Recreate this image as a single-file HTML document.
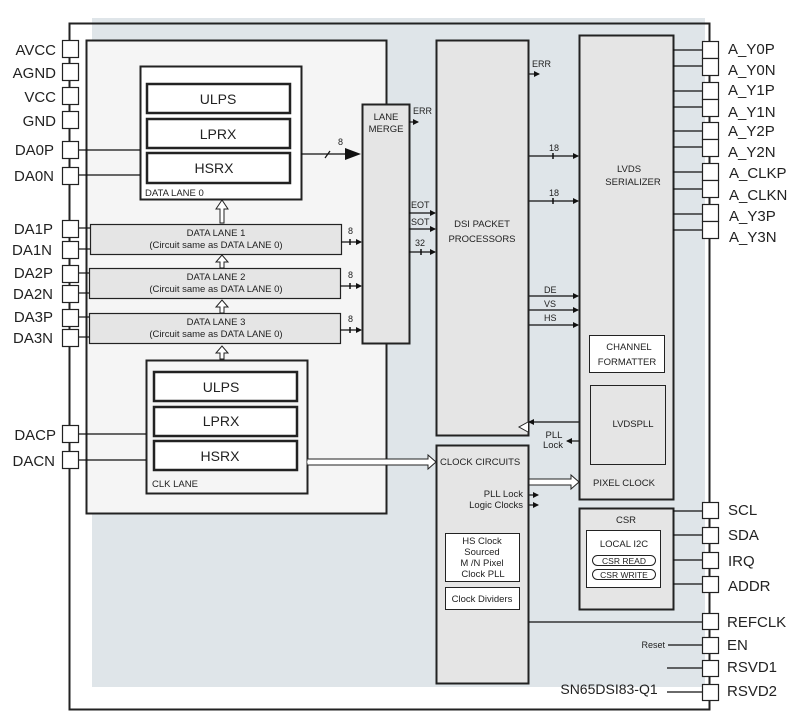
<!DOCTYPE html>
<html><head><meta charset="utf-8"><style>
body{margin:0;background:#fff}
svg{display:block}
text{font-family:"Liberation Sans",sans-serif;fill:#222}
</style></head><body>
<svg width="803" height="727" viewBox="0 0 803 727" xmlns="http://www.w3.org/2000/svg">
<defs>
<marker id="a" markerWidth="6" markerHeight="6" refX="5" refY="3" orient="auto" markerUnits="userSpaceOnUse"><path d="M0,0 L6,3 L0,6 z" fill="#111"/></marker>
</defs>
<rect x="92" y="18" width="613" height="669" fill="#dfe5e9"/>
<rect x="69.5" y="23.5" width="640" height="686" fill="none" stroke="#222" stroke-width="2"/>
<rect x="92" y="18" width="613" height="669" fill="#dfe5e9" opacity="0"/>
<!-- left panel -->
<rect x="86.5" y="40.5" width="300" height="473" fill="#f5f5f5" stroke="#222" stroke-width="2"/>
<!-- data lane 0 -->
<rect x="140.5" y="66.5" width="161" height="133" fill="#fff" stroke="#222" stroke-width="2"/>
<g fill="#fff" stroke="#222" stroke-width="2.5">
<rect x="147" y="84" width="143" height="29"/><rect x="147" y="119" width="143" height="29"/><rect x="147" y="153" width="143" height="30"/>
<rect x="154" y="372" width="143" height="29"/><rect x="154" y="407" width="143" height="29"/><rect x="154" y="441" width="143" height="29"/>
</g>
<g font-size="14" text-anchor="middle">
<text x="218" y="104">ULPS</text><text x="218" y="139">LPRX</text><text x="214" y="173">HSRX</text>
<text x="221" y="392">ULPS</text><text x="221" y="426">LPRX</text><text x="220" y="461">HSRX</text>
</g>
<text x="145" y="196" font-size="9.5">DATA LANE 0</text>
<rect x="146.5" y="360.5" width="161" height="133" fill="none" stroke="#222" stroke-width="2"/>
<text x="152" y="487" font-size="9.5">CLK LANE</text>
<!-- data lanes 1-3 -->
<g fill="#e5e5e5" stroke="#222" stroke-width="1.2">
<rect x="90.5" y="224.5" width="251" height="30"/><rect x="89.5" y="268.5" width="251" height="30"/><rect x="89.5" y="313.5" width="251" height="30"/>
</g>
<g font-size="9.5" text-anchor="middle">
<text x="216" y="236">DATA LANE 1</text><text x="216" y="248">(Circuit same as DATA LANE 0)</text>
<text x="216" y="280">DATA LANE 2</text><text x="216" y="292">(Circuit same as DATA LANE 0)</text>
<text x="216" y="325">DATA LANE 3</text><text x="216" y="337">(Circuit same as DATA LANE 0)</text>
</g>
<!-- hollow up arrows -->
<g fill="#fff" stroke="#222" stroke-width="1">
<path d="M220,223 v-14 h-4 l6,-9 l6,9 h-4 v14 z"/>
<path d="M220,268 v-6 h-4 l6,-7 l6,7 h-4 v6 z"/>
<path d="M220,313 v-6 h-4 l6,-7 l6,7 h-4 v6 z"/>
<path d="M220,359 v-6 h-4 l6,-7 l6,7 h-4 v6 z"/>
</g>
<!-- lane merge -->
<rect x="362.5" y="104.5" width="47" height="239" fill="#e5e5e5" stroke="#222" stroke-width="2"/>
<text x="386" y="120" font-size="9.5" text-anchor="middle">LANE</text>
<text x="386" y="132" font-size="9.5" text-anchor="middle">MERGE</text>
<g stroke="#111" stroke-width="1.2" fill="none">
<line x1="301" y1="154" x2="345" y2="154"/>
<line x1="325" y1="158" x2="330" y2="151"/>
</g>
<path d="M345,148 L361,154 L345,160 z" fill="#111"/>
<text x="338" y="145" font-size="9">8</text>
<g stroke="#111" stroke-width="1.2" marker-end="url(#a)">
<line x1="341" y1="242" x2="361" y2="242"/><line x1="340" y1="286" x2="361" y2="286"/><line x1="340" y1="330" x2="361" y2="330"/>
<line x1="409" y1="122" x2="418" y2="122"/>
<line x1="409" y1="213" x2="435" y2="213"/><line x1="409" y1="229" x2="435" y2="229"/><line x1="409" y1="252" x2="435" y2="252"/>
<line x1="528" y1="74" x2="539" y2="74"/>
<line x1="528" y1="156" x2="578" y2="156"/><line x1="528" y1="201" x2="578" y2="201"/>
<line x1="528" y1="296" x2="578" y2="296"/><line x1="528" y1="310" x2="578" y2="310"/><line x1="528" y1="325" x2="578" y2="325"/>
<line x1="579" y1="422" x2="529" y2="422"/><line x1="579" y1="441" x2="567" y2="441"/>
<line x1="529" y1="495" x2="538" y2="495"/><line x1="529" y1="505" x2="538" y2="505"/>
</g>
<g stroke="#111" stroke-width="1.5">
<line x1="350" y1="239" x2="350" y2="245"/><line x1="350" y1="283" x2="350" y2="289"/><line x1="350" y1="327" x2="350" y2="333"/>
<line x1="421" y1="249" x2="421" y2="255"/><line x1="553" y1="153" x2="553" y2="159"/><line x1="553" y1="198" x2="553" y2="204"/>
</g>
<g font-size="9">
<text x="348" y="234">8</text><text x="348" y="278">8</text><text x="348" y="322">8</text>
<text x="413" y="114">ERR</text><text x="532" y="67">ERR</text>
<text x="411" y="208">EOT</text><text x="411" y="225">SOT</text><text x="415" y="246">32</text>
<text x="549" y="151">18</text><text x="549" y="196">18</text>
<text x="544" y="293">DE</text><text x="544" y="307">VS</text><text x="544" y="321">HS</text>
</g>
<!-- DSI packet -->
<rect x="436.5" y="40.5" width="92" height="395" fill="#e5e5e5" stroke="#222" stroke-width="2"/>
<text x="482" y="227" font-size="9.5" text-anchor="middle">DSI PACKET</text>
<text x="482" y="242" font-size="9.5" text-anchor="middle">PROCESSORS</text>
<path d="M528,422 L519,427 L528,432" fill="#fff" stroke="#222"/>
<!-- clock circuits -->
<rect x="436.5" y="445.5" width="92" height="238" fill="#e5e5e5" stroke="#222" stroke-width="2"/>
<text x="440" y="465" font-size="9.5">CLOCK CIRCUITS</text>
<text x="523" y="497" font-size="9.5" text-anchor="end">PLL Lock</text>
<text x="523" y="508" font-size="9.5" text-anchor="end">Logic Clocks</text>
<rect x="445.5" y="533.5" width="74" height="48" fill="#fff" stroke="#222"/>
<g font-size="9.5" text-anchor="middle"><text x="482" y="544">HS Clock</text><text x="482" y="555">Sourced</text><text x="482" y="566">M /N Pixel</text><text x="483" y="577">Clock PLL</text></g>
<rect x="445.5" y="587.5" width="74" height="22" fill="#fff" stroke="#222"/>
<text x="482" y="602" font-size="9.5" text-anchor="middle">Clock Dividers</text>
<!-- double line arrows -->
<g fill="#fff" stroke="#222" stroke-width="1">
<path d="M307,459 H428 V455 L436,462 L428,469 V465 H307 z" fill="#fff"/>
<path d="M529,479 H571 V475 L579,482 L571,489 V485 H529 z"/>
</g>
<line x1="307" y1="462" x2="425" y2="462" stroke="#fff" stroke-width="1"/>
<!-- LVDS -->
<rect x="579.5" y="35.5" width="94" height="464" fill="#e5e5e5" stroke="#222" stroke-width="2"/>
<text x="629" y="172" font-size="9.5" text-anchor="middle">LVDS</text>
<text x="633" y="185" font-size="9.5" text-anchor="middle">SERIALIZER</text>
<rect x="589.5" y="335.5" width="75" height="37" fill="#fff" stroke="#222"/>
<text x="629" y="350" font-size="9.5" text-anchor="middle">CHANNEL</text>
<text x="627" y="365" font-size="9.5" text-anchor="middle">FORMATTER</text>
<rect x="590.5" y="385.5" width="75" height="79" fill="#e5e5e5" stroke="#222"/>
<text x="633" y="427" font-size="9.5" text-anchor="middle">LVDSPLL</text>
<text x="554" y="438" font-size="9.5" text-anchor="middle">PLL</text>
<text x="553" y="448" font-size="9.5" text-anchor="middle">Lock</text>
<text x="593" y="486" font-size="9.5">PIXEL CLOCK</text>
<!-- CSR -->
<rect x="579.5" y="508.5" width="94" height="101" fill="#e5e5e5" stroke="#222" stroke-width="2"/>
<text x="626" y="523" font-size="9.5" text-anchor="middle">CSR</text>
<rect x="586.5" y="530.5" width="74" height="57" fill="#fff" stroke="#222"/>
<text x="624" y="547" font-size="9.5" text-anchor="middle">LOCAL  I2C</text>
<rect x="592.5" y="555.5" width="63" height="10" rx="5" fill="#fff" stroke="#222"/>
<rect x="592.5" y="569.5" width="63" height="10" rx="5" fill="#fff" stroke="#222"/>
<text x="624" y="564" font-size="8.5" text-anchor="middle">CSR READ</text>
<text x="624" y="578" font-size="8.5" text-anchor="middle">CSR WRITE</text>
<!-- wires to pads -->
<g stroke="#111" stroke-width="1.2">
<line x1="78" y1="150" x2="140" y2="150"/><line x1="78" y1="175" x2="140" y2="175"/>
<line x1="78" y1="228" x2="90" y2="228"/><line x1="78" y1="249" x2="90" y2="249"/>
<line x1="78" y1="273" x2="89" y2="273"/><line x1="78" y1="293" x2="89" y2="293"/>
<line x1="78" y1="317" x2="89" y2="317"/><line x1="78" y1="337" x2="89" y2="337"/>
<line x1="78" y1="434" x2="146" y2="434"/><line x1="78" y1="460" x2="146" y2="460"/>
<line x1="673" y1="50" x2="702" y2="50"/><line x1="673" y1="66" x2="702" y2="66"/>
<line x1="673" y1="91" x2="702" y2="91"/><line x1="673" y1="107" x2="702" y2="107"/>
<line x1="673" y1="131" x2="702" y2="131"/><line x1="673" y1="147" x2="702" y2="147"/>
<line x1="673" y1="172" x2="702" y2="172"/><line x1="673" y1="189" x2="702" y2="189"/>
<line x1="673" y1="214" x2="702" y2="214"/><line x1="673" y1="230" x2="702" y2="230"/>
<line x1="673" y1="511" x2="702" y2="511"/><line x1="673" y1="535" x2="702" y2="535"/>
<line x1="673" y1="560" x2="702" y2="560"/><line x1="673" y1="584" x2="702" y2="584"/>
<line x1="529" y1="622" x2="702" y2="622"/>
<line x1="668" y1="645" x2="702" y2="645"/>
<line x1="667" y1="668" x2="702" y2="668"/><line x1="667" y1="692" x2="702" y2="692"/>
</g>
<text x="665" y="648" font-size="9" text-anchor="end">Reset</text>
<text x="609" y="694" font-size="14" text-anchor="middle">SN65DSI83-Q1</text>
<!-- left pads -->
<g fill="#fff" stroke="#222" stroke-width="1.2">
<rect x="62.5" y="40.5" width="16" height="17"/><rect x="62.5" y="63.5" width="16" height="17"/>
<rect x="62.5" y="87.5" width="16" height="17"/><rect x="62.5" y="111.5" width="16" height="17"/>
<rect x="62.5" y="141.5" width="16" height="17"/><rect x="62.5" y="167.5" width="16" height="17"/>
<rect x="62.5" y="220.5" width="16" height="17"/><rect x="62.5" y="241.5" width="16" height="17"/>
<rect x="62.5" y="265.5" width="16" height="17"/><rect x="62.5" y="285.5" width="16" height="17"/>
<rect x="62.5" y="309.5" width="16" height="17"/><rect x="62.5" y="329.5" width="16" height="17"/>
<rect x="62.5" y="425.5" width="16" height="17"/><rect x="62.5" y="451.5" width="16" height="17"/>
<rect x="702.5" y="41.5" width="16" height="17"/><rect x="702.5" y="58.5" width="16" height="17"/>
<rect x="702.5" y="82.5" width="16" height="17"/><rect x="702.5" y="99.5" width="16" height="17"/>
<rect x="702.5" y="122.5" width="16" height="17"/><rect x="702.5" y="139.5" width="16" height="17"/>
<rect x="702.5" y="163.5" width="16" height="17"/><rect x="702.5" y="180.5" width="16" height="17"/>
<rect x="702.5" y="204.5" width="16" height="17"/><rect x="702.5" y="221.5" width="16" height="17"/>
<rect x="702.5" y="502.5" width="16" height="16"/><rect x="702.5" y="527.5" width="16" height="16"/>
<rect x="702.5" y="552.5" width="16" height="16"/><rect x="702.5" y="576.5" width="16" height="16"/>
<rect x="702.5" y="613.5" width="16" height="16"/><rect x="702.5" y="637.5" width="16" height="16"/>
<rect x="702.5" y="660.5" width="16" height="16"/><rect x="702.5" y="684.5" width="16" height="16"/>
</g>
<g font-size="15" text-anchor="end">
<text x="56" y="55">AVCC</text><text x="56" y="78">AGND</text><text x="56" y="102">VCC</text><text x="56" y="126">GND</text>
<text x="54" y="155">DA0P</text><text x="54" y="181">DA0N</text>
<text x="53" y="234">DA1P</text><text x="52" y="255">DA1N</text><text x="53" y="278">DA2P</text><text x="53" y="299">DA2N</text>
<text x="53" y="322">DA3P</text><text x="53" y="343">DA3N</text>
<text x="56" y="440">DACP</text><text x="55" y="466">DACN</text>
</g>
<g font-size="15">
<text x="728" y="54">A_Y0P</text><text x="728" y="75">A_Y0N</text><text x="728" y="95">A_Y1P</text><text x="728" y="117">A_Y1N</text>
<text x="728" y="136">A_Y2P</text><text x="728" y="157">A_Y2N</text><text x="729" y="178">A_CLKP</text><text x="729" y="200">A_CLKN</text>
<text x="729" y="221">A_Y3P</text><text x="729" y="242">A_Y3N</text>
<text x="728" y="515">SCL</text><text x="728" y="540">SDA</text><text x="728" y="566">IRQ</text><text x="728" y="591">ADDR</text>
<text x="727" y="627">REFCLK</text><text x="727" y="650">EN</text><text x="727" y="672">RSVD1</text><text x="727" y="696">RSVD2</text>
</g>
</svg>
</body></html>
